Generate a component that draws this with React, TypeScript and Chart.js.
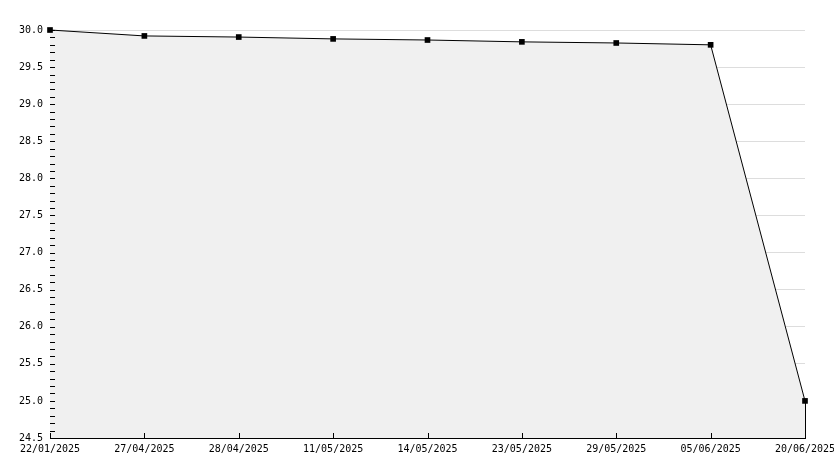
import React, { useEffect, useRef } from "react";
import { Chart, registerables } from "chart.js";

Chart.register(...registerables);

const dates = [
  "22/01/2025",
  "27/04/2025",
  "28/04/2025",
  "11/05/2025",
  "14/05/2025",
  "23/05/2025",
  "29/05/2025",
  "05/06/2025",
  "20/06/2025",
];
const values = [30.0, 29.92, 29.905, 29.88, 29.865, 29.84, 29.825, 29.8, 25.0];
const yMin = 24.5;
const yMax = 30.0;

const FONT = { family: "'DejaVu Sans Mono', monospace", size: 10 };

const isMajor = (v: number) => Math.abs(v * 2 - Math.round(v * 2)) < 1e-6;

const innerTicks = {
  id: "innerTicks",
  afterDatasetsDraw(chart: any) {
    const ctx = chart.ctx;
    const area = chart.chartArea;
    const xs = chart.scales.x;
    const ys = chart.scales.y;
    ctx.save();
    ctx.strokeStyle = "#000";
    ctx.lineWidth = 1;
    ctx.beginPath();
    ys.ticks.forEach((t: any) => {
      const py = Math.round(ys.getPixelForValue(t.value)) + 0.5;
      ctx.moveTo(area.left, py);
      ctx.lineTo(area.left + 5, py);
    });
    xs.ticks.forEach((_t: any, i: number) => {
      const px = Math.round(xs.getPixelForValue(i)) + 0.5;
      ctx.moveTo(px, area.bottom);
      ctx.lineTo(px, area.bottom - 5);
    });
    const last = values.length - 1;
    const lx = Math.round(xs.getPixelForValue(last)) + 0.5;
    ctx.moveTo(lx, ys.getPixelForValue(values[last]));
    ctx.lineTo(lx, area.bottom);
    ctx.stroke();
    ctx.restore();
  },
};

export default function App() {
  const ref = useRef<HTMLCanvasElement | null>(null);
  useEffect(() => {
    if (!ref.current) return;
    const chart = new Chart(ref.current, {
      type: "line",
      data: {
        labels: dates,
        datasets: [
          {
            data: values,
            borderColor: "#000",
            borderWidth: 1,
            backgroundColor: "#f0f0f0",
            fill: "start",
            tension: 0,
            clip: false,
            pointStyle: "rect",
            pointRadius: 4,
            pointBackgroundColor: "#000",
            pointBorderColor: "#000",
            pointBorderWidth: 0,
          },
        ],
      },
      options: {
        animation: false,
        responsive: false,
        events: [],
        layout: { autoPadding: false, padding: { top: 30, right: 29, left: 0, bottom: 0 } },
        plugins: { legend: { display: false }, tooltip: { enabled: false } },
        scales: {
          x: {
            type: "category",
            offset: false,
            grid: { display: false, drawTicks: false },
            border: { display: true, color: "#000", width: 1 },
            ticks: {
              color: "#000",
              font: FONT,
              maxRotation: 0,
              autoSkip: false,
              padding: 5,
            },
            afterFit: (s: any) => {
              s.height = 30;
              s.paddingLeft = 0;
              s.paddingRight = 0;
            },
          },
          y: {
            type: "linear",
            min: yMin,
            max: yMax,
            grid: {
              drawTicks: false,
              color: (c: any) => (c.tick && isMajor(c.tick.value) ? "#dddddd" : "rgba(0,0,0,0)"),
            },
            border: { display: true, color: "#000", width: 1 },
            ticks: {
              stepSize: 0.1,
              maxTicksLimit: 200,
              autoSkip: false,
              color: "#000",
              font: FONT,
              padding: 7,
              callback: (v: any) => (isMajor(Number(v)) ? Number(v).toFixed(1) : ""),
            },
            afterFit: (s: any) => {
              s.width = 50;
              s.paddingTop = 0;
              s.paddingBottom = 0;
            },
          },
        },
      },
      plugins: [innerTicks],
    });
    return () => chart.destroy();
  }, []);
  return (
    <div style={{ position: "absolute", left: 0, top: 0, width: 834, height: 468, background: "#fff" }}>
      <canvas ref={ref} width={834} height={468} style={{ display: "block" }} />
    </div>
  );
}
